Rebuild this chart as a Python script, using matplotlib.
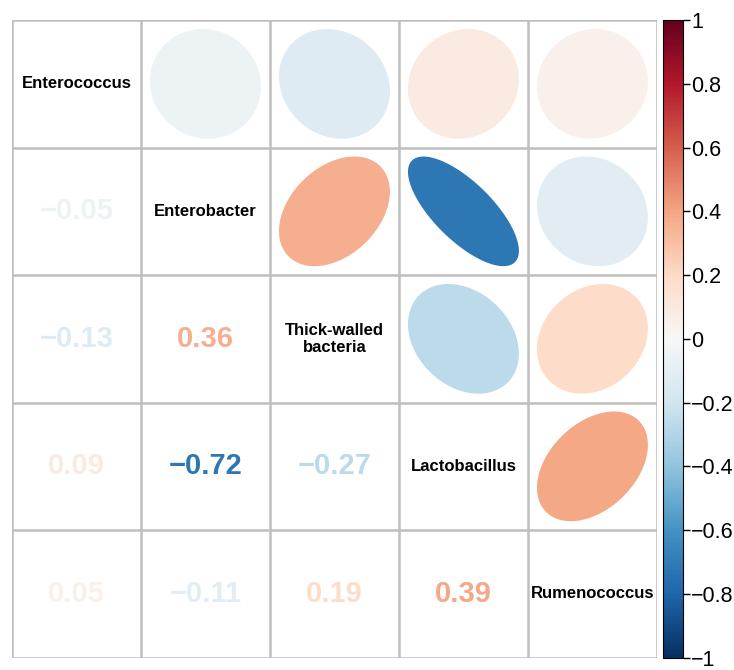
import numpy as np
import matplotlib
matplotlib.use("Agg")
import matplotlib.pyplot as plt
from matplotlib.patches import Polygon
from matplotlib.colors import Normalize

# taxa shown on the diagonal
labels = ["Enterococcus", "Enterobacter", "Thick-walled\nbacteria",
          "Lactobacillus", "Rumenococcus"]

# lower-triangle correlations, row by row
r_enterobacter = [-0.05]
r_thick = [-0.13, 0.36]
r_lacto = [0.09, -0.72, -0.27]
r_rumeno = [0.05, -0.11, 0.19, 0.39]

cbar_ticks = [-1, -0.8, -0.6, -0.4, -0.2, 0, 0.2, 0.4, 0.6, 0.8, 1]
cbar_ticklabels = ["\u22121", "\u22120.8", "\u22120.6", "\u22120.4", "\u22120.2",
                   "0", "0.2", "0.4", "0.6", "0.8", "1"]

n = len(labels)
corr = np.eye(n)
for i, row in enumerate([r_enterobacter, r_thick, r_lacto, r_rumeno], start=1):
    for j, v in enumerate(row):
        corr[i, j] = v
        corr[j, i] = v

cmap = plt.get_cmap("RdBu_r")
norm = Normalize(-1, 1)

plt.rcParams["font.family"] = ["Liberation Sans", "DejaVu Sans"]

fig = plt.figure(figsize=(7.34, 6.70), dpi=100)
ax = fig.add_axes([0.0163, 0.0185, 0.8787, 0.9515])
ax.set_xlim(0, n)
ax.set_ylim(0, n)
ax.axis("off")

def ellipse_pts(r, cx, cy, scale=0.43):
    # corrplot-style ellipse
    d = np.arccos(np.clip(r, -1, 1))
    t = np.linspace(-np.pi, np.pi, 200)
    x = scale * np.cos(t + d / 2)
    y = scale * np.cos(t - d / 2)
    return np.column_stack([cx + x, cy + y])

for i in range(n):
    for j in range(n):
        cx, cy = j + 0.5, n - i - 0.5
        v = corr[i, j]
        if i == j:
            ax.text(cx, cy, labels[i], ha="center", va="center",
                    fontsize=12, fontweight="bold", color="black",
                    linespacing=1.2)
        elif i < j:
            ax.add_patch(Polygon(ellipse_pts(v, cx, cy), closed=True,
                                 facecolor=cmap(norm(v)), edgecolor="none"))
        else:
            txt = f"{v:.2f}".replace("-", "\u2212")
            ax.text(cx, cy, txt, ha="center", va="center", fontsize=21,
                    fontweight="bold", color=cmap(norm(v)))

for k in range(n + 1):
    ax.plot([k, k], [0, n], color="#BEBEBE", lw=1.8, solid_capstyle="butt")
    ax.plot([0, n], [k, k], color="#BEBEBE", lw=1.8, solid_capstyle="butt")

cax = fig.add_axes([0.9033, 0.0185, 0.0272, 0.9515])
sm = matplotlib.cm.ScalarMappable(norm=norm, cmap=cmap)
cb = fig.colorbar(sm, cax=cax, ticks=cbar_ticks)
cb.set_ticklabels(cbar_ticklabels)
cb.outline.set_linewidth(0.8)
cax.tick_params(labelsize=15.5, length=5, width=1, pad=1)

fig.savefig("out.png", dpi=100)
